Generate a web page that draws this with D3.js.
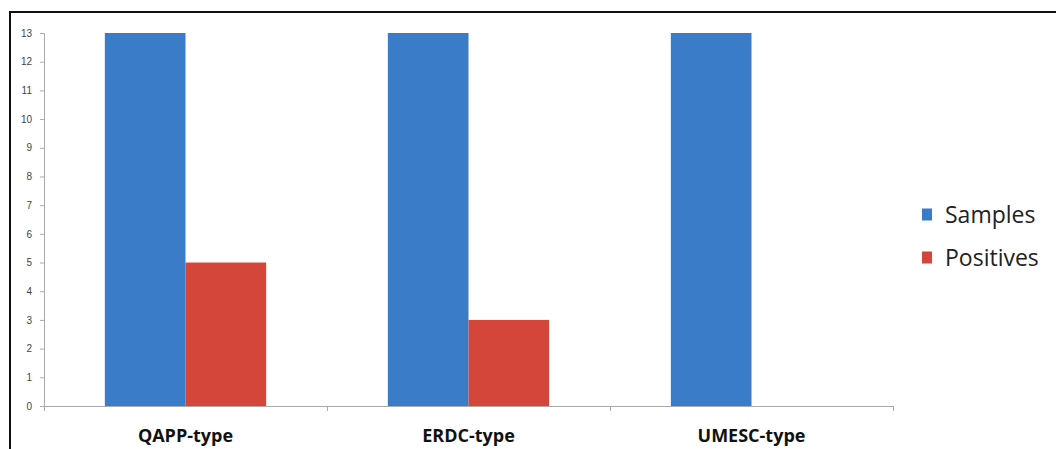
<!DOCTYPE html>
<html><head><meta charset="utf-8">
<script src="https://cdn.jsdelivr.net/npm/d3@7"></script>
<style>body{margin:0;background:#fff}svg{display:block}</style>
</head><body>
<script>
const categories = ["QAPP-type", "ERDC-type", "UMESC-type"];
const seriesNames = ["Samples", "Positives"];
const samples = [13, 13, 13];
const positives = [5, 3, 0];
const yTicks = [0,1,2,3,4,5,6,7,8,9,10,11,12,13];
const colors = ["#3b7cc8", "#d4453a"];

(function(){
const W = 1056, H = 449;
const svg = d3.select("body").append("svg").attr("width", W).attr("height", H);
// frame
svg.append("line").attr("x1",10).attr("x2",W).attr("y1",12).attr("y2",12).attr("stroke","#111").attr("stroke-width",2);
svg.append("line").attr("x1",10).attr("x2",10).attr("y1",11).attr("y2",H).attr("stroke","#111").attr("stroke-width",2);

const mL = 44, mR = 893, mT = 33, mB = 406;
const x0 = d3.scaleBand().domain(categories).range([mL, mR]).paddingInner(0).paddingOuter(0);
const y = d3.scaleLinear().domain([0, 13]).range([mB, mT]);
const barW = x0.bandwidth() * 0.285;
const x1 = d3.scaleBand().domain(seriesNames).range([0, barW*2]).padding(0);

const data = categories.map((c,i)=>({cat:c, vals:[samples[i], positives[i]]}));
const g = svg.append("g");
data.forEach(d=>{
  const gx = x0(d.cat) + (x0.bandwidth() - barW*2)/2;
  d.vals.forEach((v,j)=>{
    if (v <= 0) return;
    g.append("rect").attr("x", gx + x1(seriesNames[j])).attr("y", y(v))
      .attr("width", x1.bandwidth()).attr("height", y(0)-y(v)).attr("fill", colors[j]);
  });
});

// y axis
const yAxis = d3.axisLeft(y).tickValues(yTicks).tickSize(4).tickPadding(8);
const ya = svg.append("g").attr("transform",`translate(${mL},0)`).call(yAxis);
ya.select(".domain").attr("stroke","#aaa").attr("d",`M-4,${mT+0.5}H0.5V${mB}`);
ya.selectAll(".tick line").attr("stroke","#aaa");
ya.selectAll("text").attr("fill","#444").style("font-family","Liberation Sans, Arial").style("font-size","10px").attr("text-anchor","end");

// x axis
const xa = svg.append("g").attr("transform",`translate(0,${mB})`);
xa.append("line").attr("x1",mL).attr("x2",mR).attr("y1",0.5).attr("y2",0.5).attr("stroke","#aaa");
const bounds = [mL, ...categories.map(c=>x0(c)+x0.bandwidth())];
bounds.forEach(b=>xa.append("line").attr("x1",b+0.5).attr("x2",b+0.5).attr("y1",0).attr("y2",5).attr("stroke","#aaa"));
xa.selectAll("text.cat").data(categories).enter().append("text").attr("class","cat")
  .attr("x", d=>x0(d)+x0.bandwidth()/2).attr("y", 36).attr("text-anchor","middle")
  .style("font-family","Open Sans, sans-serif").style("font-weight","bold").style("font-size","18px").attr("fill","#111")
  .text(d=>d);

// legend
const leg = svg.append("g");
seriesNames.forEach((s,i)=>{
  const ly = 214.5 + i*43;
  leg.append("rect").attr("x",922).attr("y",ly-6).attr("width",10).attr("height",12).attr("fill",colors[i]);
  leg.append("text").attr("x",945).attr("y",ly+8.5).text(s)
    .style("font-family","Open Sans, sans-serif").style("font-size","23px").attr("fill","#222");
});
})();
</script>
</body></html>
